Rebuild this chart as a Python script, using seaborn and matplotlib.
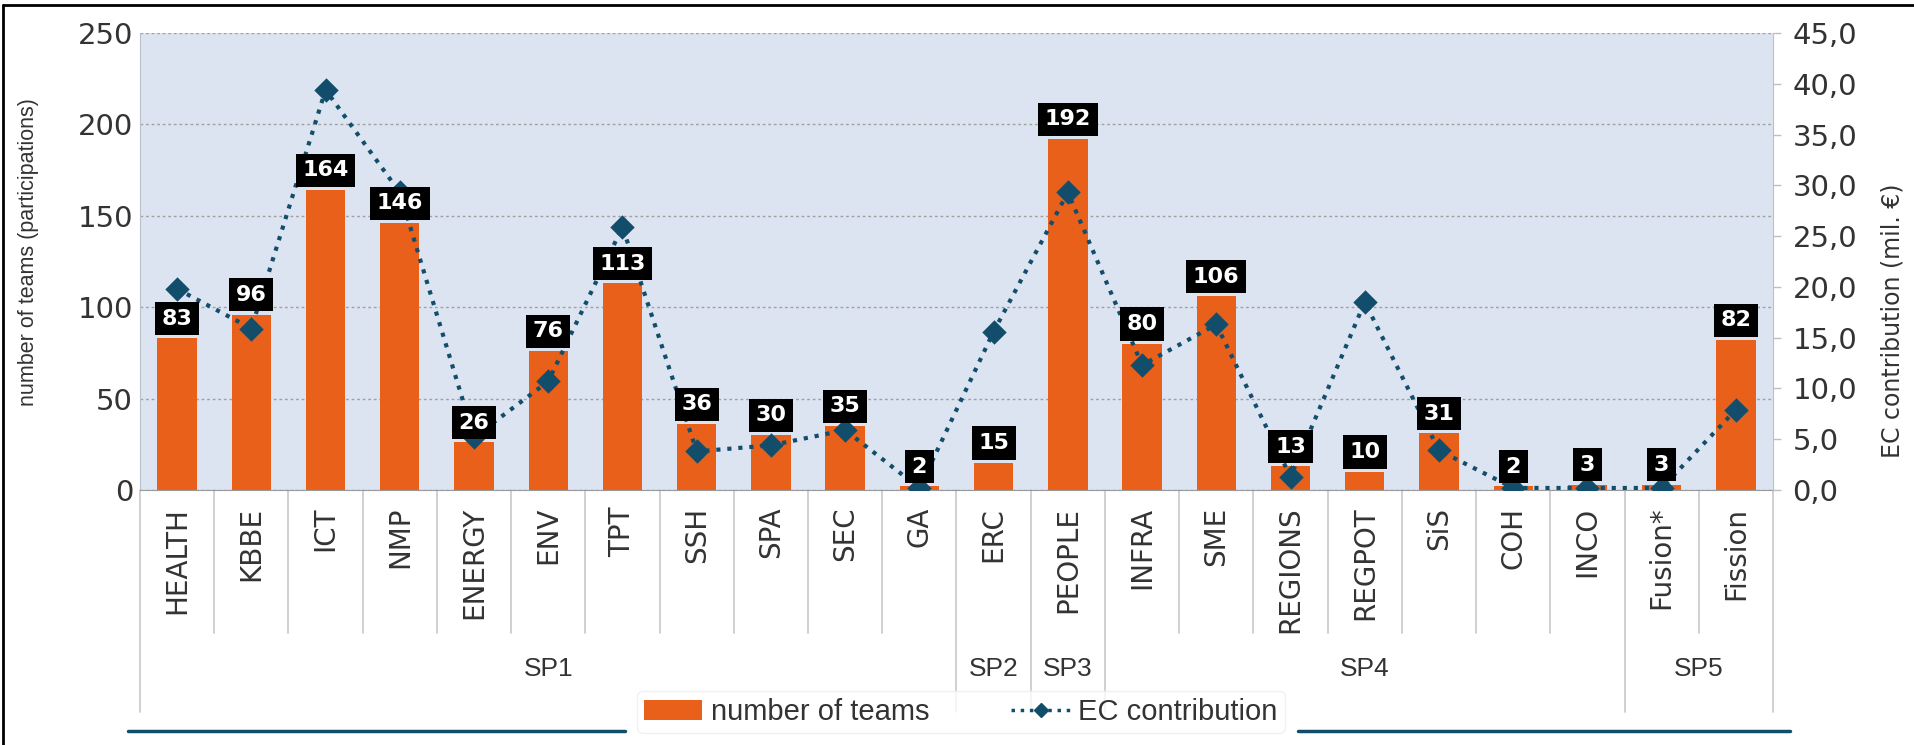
import matplotlib
matplotlib.use('Agg')
import matplotlib.pyplot as plt
import matplotlib.ticker as mticker
from matplotlib.lines import Line2D
from matplotlib.patches import Patch
import matplotlib.transforms as mtransforms
import numpy as np
import pandas as pd
import seaborn as sns

# data
themes = ['HEALTH', 'KBBE', 'ICT', 'NMP', 'ENERGY', 'ENV', 'TPT', 'SSH', 'SPA', 'SEC', 'GA',
          'ERC', 'PEOPLE', 'INFRA', 'SME', 'REGIONS', 'REGPOT', 'SiS', 'COH', 'INCO',
          'Fusion*', 'Fission']
teams = [83, 96, 164, 146, 26, 76, 113, 36, 30, 35, 2,
         15, 192, 80, 106, 13, 10, 31, 2, 3, 3, 82]
ec_contribution = [19.8, 15.9, 39.4, 29.3, 5.2, 10.7, 25.9, 3.8, 4.4, 5.9, 0.2,
                   15.6, 29.3, 12.3, 16.3, 1.3, 18.5, 3.9, 0.2, 0.2, 0.2, 7.9]
programmes = ['SP1', 'SP2', 'SP3', 'SP4', 'SP5']
programme_sizes = [11, 1, 1, 7, 2]

ORANGE = '#E8601A'
TEAL = '#124E6B'
BG = '#DDE4F1'
TXT = '#333333'

df = pd.DataFrame({'theme': themes, 'teams': teams, 'ec': ec_contribution})

sns.set_style('white')
plt.rcParams['font.family'] = ['DejaVu Sans']
narrow = ['Liberation Sans Narrow', 'Liberation Sans', 'DejaVu Sans']

fig = plt.figure(figsize=(19.15, 7.45), dpi=100)
ax = fig.add_axes([140/1915, 1-490/745, (1773-140)/1915, (490-33)/745])
ax.set_facecolor(BG)

sns.barplot(data=df, x='theme', y='teams', color=ORANGE, width=0.53,
            saturation=1, linewidth=0, edgecolor='none', ax=ax, zorder=2)
ax.set_ylim(0, 250)
ax.set_xlim(-0.5, len(themes)-0.5)
ax.set_yticks(np.arange(0, 251, 50))
ax.yaxis.grid(True, linestyle=(0, (2, 2)), color='#a0a0a0', linewidth=1.0)
ax.set_axisbelow(True)
ax.set_xlabel('')
ax.set_ylabel('number of teams (participations)', fontsize=15.5, color=TXT,
              family=['Liberation Sans', 'DejaVu Sans'])
ax.yaxis.set_label_coords(-0.062, 0.52)
ax.tick_params(axis='y', labelsize=21, colors=TXT, length=0, pad=5)
ax.set_xticks(range(len(themes)))
ax.set_xticklabels(themes, rotation=90, fontsize=20, color=TXT, va='top')
ax.tick_params(axis='x', length=0, pad=12)
for s in ['top', 'right']:
    ax.spines[s].set_visible(False)
ax.spines['left'].set_color('#b8c0cc')
ax.spines['bottom'].set_color('#9a9a9a')

# EC contribution line on the second axis
ax2 = ax.twinx()
sns.pointplot(data=df, x='theme', y='ec', color=TEAL, markers='D', linestyles=':',
              markersize=10, linewidth=3, ax=ax2, zorder=3)
ax2.set_ylim(0, 45)
ax2.set_xlim(-0.5, len(themes)-0.5)
ax2.set_yticks(np.arange(0, 46, 5))
ax2.yaxis.set_major_formatter(mticker.FuncFormatter(lambda v, p: f'{v:.1f}'.replace('.', ',')))
ax2.tick_params(axis='y', labelsize=21, colors=TXT, length=6, width=1, pad=8)
ax2.tick_params(axis='y', color='#b8c0cc')
ax2.set_ylabel('EC contribution (mil. \u20ac)', fontsize=17, color=TXT)
ax2.yaxis.set_label_coords(1.066, 0.37)
ax2.set_xlabel('')
for s in ['top', 'left', 'bottom']:
    ax2.spines[s].set_visible(False)
ax2.spines['right'].set_color('#b8c0cc')

# value labels in black boxes
for i, v in enumerate(teams):
    ax2.annotate(str(v), xy=(i, v), xycoords=ax.transData, xytext=(0, 7),
                 textcoords='offset points', ha='center', va='bottom',
                 fontsize=16, fontweight='bold', color='white', zorder=5,
                 bbox=dict(boxstyle='square,pad=0.3', fc='black', ec='none'))

# category separators and programme groups below the axis
trans = mtransforms.blended_transform_factory(ax.transData, ax.transAxes)
short_y = (490-633)/457
long_y = (490-712)/457
group_y = (490-669)/457
edges = np.cumsum([0] + programme_sizes)
for k in range(len(themes)+1):
    yb = long_y if k in edges else short_y
    ax.add_line(Line2D([k-0.5, k-0.5], [0, yb], transform=trans, color='#c8c8c8',
                       linewidth=1.2, clip_on=False))
for name, a, b in zip(programmes, edges[:-1], edges[1:]):
    ax.text((a+b-1)/2, group_y, name, transform=trans, ha='center', va='center',
            fontsize=19, color=TXT, family=narrow)

# bottom rule and legend
fig.add_artist(Line2D([128/1915, 625/1915], [1-731/745]*2, color=TEAL, linewidth=2.5))
fig.add_artist(Line2D([1298/1915, 1790/1915], [1-731/745]*2, color=TEAL, linewidth=2.5))
handles = [Patch(facecolor=ORANGE, edgecolor='none'),
           Line2D([], [], color=TEAL, linestyle=':', linewidth=2.5, marker='D', markersize=7)]
leg = fig.legend(handles, ['number of teams', 'EC contribution'], loc='center',
                 bbox_to_anchor=(961/1915, 1-712/745), ncol=2, frameon=True,
                 prop={'family': narrow, 'size': 21}, handlelength=2.0, handletextpad=0.3,
                 columnspacing=2.8, borderpad=0.25, borderaxespad=0)
leg.get_frame().set_facecolor('white')
leg.get_frame().set_edgecolor('#eeeeee')
for t in leg.get_texts():
    t.set_color(TXT)

# outer frame (left and top edges)
fig.add_artist(Line2D([0.0015, 0.0015], [0, 1-5/745], color='black', linewidth=2))
fig.add_artist(Line2D([0.0015, 1], [1-5/745]*2, color='black', linewidth=2))

fig.savefig('out.png', dpi=100)
